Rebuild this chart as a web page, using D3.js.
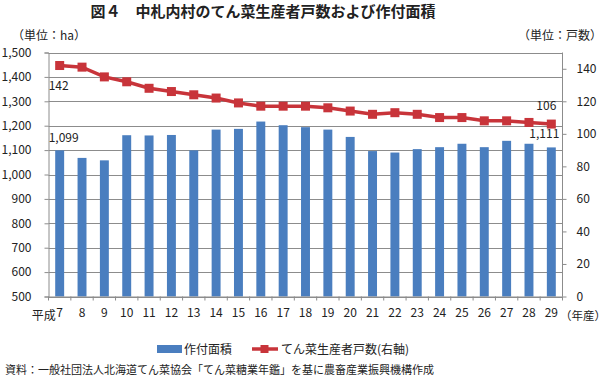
<!DOCTYPE html>
<html><head><meta charset="utf-8">
<script src="https://cdn.jsdelivr.net/npm/d3@7"></script>
<style>
body{margin:0;background:#fff;}
svg text{font-family:"Noto Sans CJK JP","Noto Sans",sans-serif;fill:#222;}
</style></head>
<body><svg id="c" width="608" height="379"></svg>
<script>
const years = ["7","8","9","10","11","12","13","14","15","16","17","18","19","20","21","22","23","24","25","26","27","28","29"];
const area = [1099,1068,1058,1161,1160,1162,1099,1184,1187,1217,1202,1194,1184,1154,1096,1090,1104,1112,1126,1112,1138,1126,1111];
const growers = [142,141,135,132,128,126,124,122,119,117,117,117,116,114,112,113,112,110,110,108,108,107,106];
const leftTicks = [500,600,700,800,900,1000,1100,1200,1300,1400,1500];
const rightTicks = [0,20,40,60,80,100,120,140];

const svg = d3.select("#c");
const L = 48.5, R = 562.5, T = 52.5, B = 296.5;
const x = d3.scaleBand().domain(years).range([L, R]).paddingInner(0.6).paddingOuter(0.3);
const xc = d3.scaleBand().domain(years).range([L, R]);
const yL = d3.scaleLinear().domain([500,1500]).range([B, T]);
const yR = d3.scaleLinear().domain([0,150]).range([B, T]);
const grey = "#8c8c8c";
const fmt = d3.format(",");

// gridlines
svg.append("g").selectAll("line").data(leftTicks).join("line")
  .attr("x1", L).attr("x2", R).attr("y1", d => Math.round(yL(d))+0.5).attr("y2", d => Math.round(yL(d))+0.5)
  .attr("stroke", grey).attr("stroke-width", 1);

// left axis
const gl = svg.append("g").attr("transform", `translate(${L},0)`)
  .call(d3.axisLeft(yL).tickValues(leftTicks).tickFormat(fmt).tickSize(4).tickPadding(13));
gl.selectAll("path,line").attr("stroke", grey);
gl.selectAll("text").style("font-size","12px").attr("fill","#222");

// right axis
const gr = svg.append("g").attr("transform", `translate(${R},0)`)
  .call(d3.axisRight(yR).tickValues(rightTicks).tickSize(4).tickPadding(10));
gr.select("path").remove();
gr.selectAll("line").attr("stroke", grey);
gr.selectAll("text").style("font-size","12px").attr("fill","#222");
svg.append("line").attr("x1",R).attr("x2",R).attr("y1",T).attr("y2",B).attr("stroke",grey);

// bars
svg.append("g").selectAll("rect").data(area).join("rect")
  .attr("x", (d,i) => x(years[i])).attr("width", x.bandwidth())
  .attr("y", d => yL(d)).attr("height", d => B - yL(d))
  .attr("fill", "#4A7EBF");

// bottom axis
const gb = svg.append("g").attr("transform", `translate(0,${B})`)
  .call(d3.axisBottom(xc).tickSize(0).tickPadding(12));
gb.select("path").attr("stroke", grey);
gb.selectAll("text").style("font-size","12px").attr("fill","#222");
svg.append("g").selectAll("line").data(d3.range(years.length+1)).join("line")
  .attr("x1", i => L + i*xc.step()).attr("x2", i => L + i*xc.step())
  .attr("y1", B).attr("y2", B+4).attr("stroke", grey);
svg.append("text").attr("x", xc("7") + xc.bandwidth()/2 - 4).attr("y", 320).attr("text-anchor","end")
  .style("font-size","12px").text("平成");
svg.append("text").attr("x", 606).attr("y", 320).attr("text-anchor","end").style("font-size","11.5px").text("（年産）");

// line
const cx = (i) => xc(years[i]) + xc.bandwidth()/2;
svg.append("path").datum(growers)
  .attr("d", d3.line().x((d,i) => cx(i)).y(d => yR(d)))
  .attr("fill","none").attr("stroke","#C8343A").attr("stroke-width",3.5);
svg.append("g").selectAll("rect").data(growers).join("rect")
  .attr("x", (d,i) => cx(i)-4.5).attr("y", d => yR(d)-4.5).attr("width",9).attr("height",9)
  .attr("fill","#C8343A");

// data labels
const lab = (t, xx, yy, anchor) => svg.append("text").attr("x", xx).attr("y", yy).attr("text-anchor", anchor)
  .style("font-size","12px").text(t);
lab(String(growers[0]), cx(0)-11, yR(growers[0])+24, "start");
lab(fmt(area[0]), cx(0)-11, yL(area[0])-8, "start");
lab(String(growers[22]), cx(22)+5, yR(growers[22])-14, "end");
lab(fmt(area[22]), cx(22)+8, yL(area[22])-9, "end");

// titles
svg.append("text").attr("x", 263).attr("y", 17).attr("text-anchor","middle")
  .style("font-size","15px").style("font-weight","bold").text("図４　中札内村のてん菜生産者戸数および作付面積");
svg.append("text").attr("x", 12).attr("y", 40).style("font-size","12px").text("（単位：ha）");
svg.append("text").attr("x", 602).attr("y", 40).attr("text-anchor","end").style("font-size","12px").text("（単位：戸数）");

// legend
svg.append("rect").attr("x",157).attr("y",345).attr("width",25).attr("height",8).attr("fill","#4A7EBF");
svg.append("text").attr("x",184).attr("y",354).style("font-size","12px").text("作付面積");
svg.append("line").attr("x1",252).attr("x2",278).attr("y1",349).attr("y2",349).attr("stroke","#C8343A").attr("stroke-width",3.5);
svg.append("rect").attr("x",260.5).attr("y",345).attr("width",8).attr("height",8).attr("fill","#C8343A");
svg.append("text").attr("x",281).attr("y",354).style("font-size","12px").text("てん菜生産者戸数(右軸)");

// source
svg.append("text").attr("x",5).attr("y",374).style("font-size","11px").text("資料：一般社団法人北海道てん菜協会「てん菜糖業年鑑」を基に農畜産業振興機構作成");
</script></body></html>
